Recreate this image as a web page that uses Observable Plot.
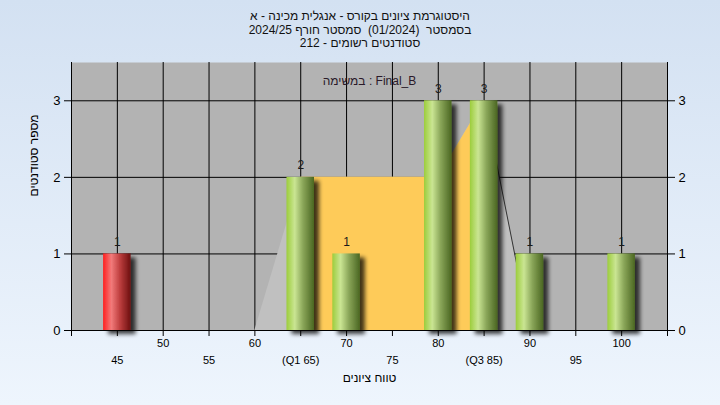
<!DOCTYPE html>
<html><head><meta charset="utf-8">
<script src="https://cdn.jsdelivr.net/npm/d3@7"></script>
<script src="https://cdn.jsdelivr.net/npm/@observablehq/plot@0.6"></script>
<style>
body{margin:0;}
#wrap{width:720px;height:405px;background:linear-gradient(#d3e1f2,#eef5fd);font-family:"Liberation Sans","DejaVu Sans",sans-serif;overflow:hidden;color:#000}
#title{height:46px;padding-top:10px;font-size:12px;color:#111;text-align:center}
#title div{height:13.5px;line-height:13.5px;white-space:pre}
#chart svg{display:block}
</style></head><body><div id="wrap"><div id="title"></div><div id="chart"></div></div>
<script>
const titleLines = [
  "היסטוגרמת ציונים בקורס - אנגלית מכינה - א",
  "בסמסטר  (01/2024)  סמסטר חורף 2024/25",
  "סטודנטים רשומים - 212"
];
const grades = [45, 65, 70, 80, 85, 90, 100];
const counts = [1, 2, 1, 3, 3, 1, 1];
const curveX = [60, 65, 80, 85, 90];
const curveY = [0, 2, 2, 3, 0];
const q1 = 65, q3 = 85;
const passMark = 55;
const ticksTop = [50, 60, 70, 80, 90, 100];
const ticksBottom = [45, 55, 65, 75, 85, 95];
const ticksBottomLabels = ["45", "55", "(Q1 65)", "75", "(Q3 85)", "95"];
const ticksEdge = [40, 105];
const yTicks = [0, 1, 2, 3];
const taskLabel = "במשימה : Final_B";
const xTitle = "טווח ציונים";
const yTitle = "מספר סטודנטים";

const titleEl = document.getElementById("title");
titleLines.forEach(t => {
  const d = document.createElement("div");
  d.textContent = t;
  titleEl.appendChild(d);
});

const bars = grades.map((g, i) => ({g, c: counts[i]}));
const curve = curveX.map((g, i) => ({g, v: curveY[i]}));
const gridTicks = [...ticksTop, ...ticksBottom].sort((a, b) => a - b);

const svg = Plot.plot({
  width: 720, height: 349,
  marginTop: 6, marginBottom: 75, marginLeft: 71, marginRight: 53,
  x: {domain: [40, 105]},
  y: {domain: [0, 3.5]},
  style: {background: "transparent", fontFamily: "'Liberation Sans','DejaVu Sans',sans-serif", fontSize: "12px", overflow: "visible"},
  marks: [
    Plot.frame({fill: "#b3b3b3", stroke: null}),
    Plot.gridX({ticks: gridTicks, stroke: "#000", strokeOpacity: 1}),
    Plot.gridY({ticks: yTicks.filter(d => d > 0), stroke: "#000", strokeOpacity: 1}),
    Plot.areaY(curve, {x: "g", y: "v", fill: "#c0c0c0"}),
    Plot.areaY(curve.filter(d => d.g >= q1 && d.g <= q3), {x: "g", y: "v", fill: "#fecb59"}),
    Plot.lineY(curve.filter(d => d.g >= q3), {x: "g", y: "v", stroke: "#333", strokeWidth: 1}),
    Plot.rectY(bars.filter(d => d.g < passMark), {x1: d => d.g - 1.5, x2: d => d.g + 1.5, y: "c", fill: "#fe2121"}),
    Plot.rectY(bars.filter(d => d.g >= passMark), {x1: d => d.g - 1.5, x2: d => d.g + 1.5, y: "c", fill: "#a1cd41"}),
    Plot.text(bars, {x: "g", y: "c", text: d => String(d.c), dy: -12, fontSize: 12, fill: "#1a1a1a"}),
    Plot.ruleX(ticksEdge, {stroke: "#000"}),
    Plot.ruleY([0], {stroke: "#000"}),
    Plot.text([taskLabel], {frameAnchor: "top", dy: 14, text: d => d, fontSize: 12, fill: "#2a1a2a"}),
    Plot.axisY({anchor: "left", ticks: yTicks, tickFormat: "d", tickSize: 7, tickPadding: 4, fontSize: 13, label: null}),
    Plot.axisY({anchor: "right", ticks: yTicks, tickFormat: "d", tickSize: 7, tickPadding: 4, fontSize: 13, label: null}),
    Plot.axisX({ticks: ticksTop, tickFormat: "d", tickSize: 6, tickPadding: 3, fontSize: 11, label: null}),
    Plot.axisX({ticks: ticksBottom, tickFormat: d => ticksBottomLabels[ticksBottom.indexOf(d)], tickSize: 6, tickPadding: 20, fontSize: 11, label: null}),
    Plot.axisX({ticks: ticksEdge, tickFormat: () => "", tickSize: 6, label: null}),
    Plot.text([xTitle], {frameAnchor: "bottom", dy: 51, text: d => d, fontSize: 12}),
    Plot.text([yTitle], {frameAnchor: "left", dx: -37, rotate: -90, text: d => d, fontSize: 12})
  ]
});

const defs = d3.select(svg).insert("defs", ":first-child");
const g1 = defs.append("linearGradient").attr("id", "gradGreen").attr("x1", 0).attr("x2", 1).attr("y1", 0).attr("y2", 0);
[[0, "#9ccd3c"], [0.3, "#cae593"], [0.6, "#8aa659"], [1, "#4a6621"]].forEach(([o, c]) => g1.append("stop").attr("offset", o).attr("stop-color", c));
const g2 = defs.append("linearGradient").attr("id", "gradRed").attr("x1", 0).attr("x2", 1).attr("y1", 0).attr("y2", 0);
[[0, "#ff1f1f"], [0.3, "#f27b7b"], [0.6, "#c04040"], [1, "#6c0e0e"]].forEach(([o, c]) => g2.append("stop").attr("offset", o).attr("stop-color", c));
defs.append("filter").attr("id", "shadow").attr("x", "-20%").attr("y", "-20%").attr("width", "160%").attr("height", "150%")
  .html('<feGaussianBlur in="SourceAlpha" stdDeviation="2"/><feOffset dx="5" dy="4" result="o"/><feComponentTransfer in="o" result="s"><feFuncA type="linear" slope="0.75"/></feComponentTransfer><feMerge><feMergeNode in="s"/><feMergeNode in="SourceGraphic"/></feMerge>');
d3.select(svg).selectAll('[fill="#a1cd41"]').attr("fill", "url(#gradGreen)").attr("filter", "url(#shadow)");
d3.select(svg).selectAll('[fill="#fe2121"]').attr("fill", "url(#gradRed)").attr("filter", "url(#shadow)");

document.getElementById("chart").appendChild(svg);
</script></body></html>
